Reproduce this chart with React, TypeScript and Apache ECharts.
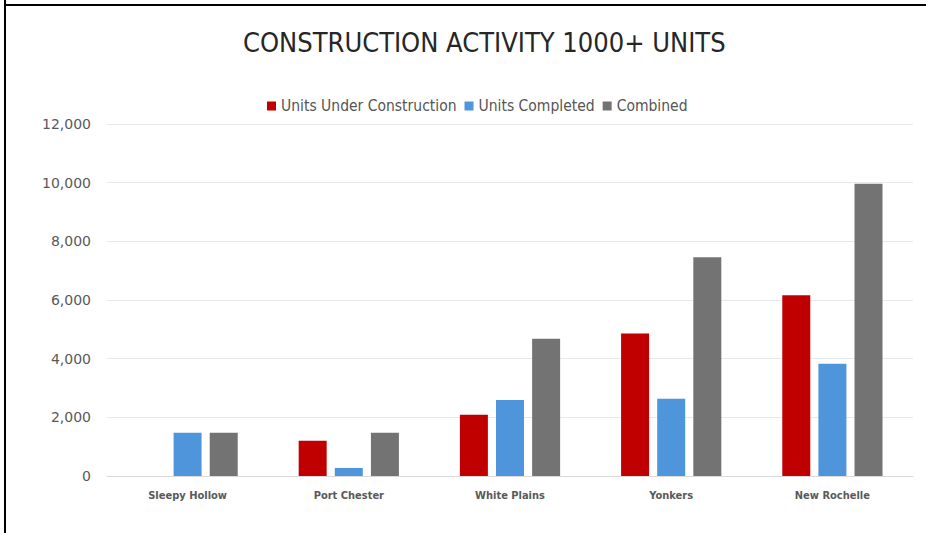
import React, { useEffect, useRef } from "react";
import * as echarts from "echarts";

const categories = ["Sleepy Hollow", "Port Chester", "White Plains", "Yonkers", "New Rochelle"];
const underConstruction = [0, 1200, 2090, 4860, 6160];
const completed = [1475, 275, 2590, 2630, 3830];
const combined = [1475, 1475, 4680, 7460, 9960];
const yTicks = { min: 0, max: 12000, interval: 2000 };

export default function App() {
  const ref = useRef<HTMLDivElement>(null);
  useEffect(() => {
    const chart = echarts.init(ref.current!, null, { renderer: "svg" });
    const barStyle = (color: string) => ({ color });
    chart.setOption({
      animation: false,
      backgroundColor: "#ffffff",
      title: {
        text: "CONSTRUCTION ACTIVITY 1000+ UNITS",
        left: 238,
        top: 24,
        textStyle: { fontFamily: "DejaVu Sans Condensed", fontWeight: "normal", fontSize: 27, color: "#262626" },
      },
      legend: {
        top: 93,
        left: 262,
        itemWidth: 9,
        itemHeight: 9,
        itemGap: 8,
        icon: "rect",
        textStyle: { fontFamily: "DejaVu Sans Condensed", fontSize: 15.5, color: "#555555" },
        data: ["Units Under Construction", "Units Completed", "Combined"],
      },
      grid: { left: 107, right: 13, top: 124, bottom: 57 },
      xAxis: {
        type: "category",
        data: categories,
        axisLine: { lineStyle: { color: "#d9d9d9" } },
        axisTick: { show: false },
        axisLabel: { margin: 14, fontFamily: "DejaVu Sans Condensed", fontWeight: "bold", fontSize: 11, color: "#595959" },
      },
      yAxis: {
        type: "value",
        min: yTicks.min,
        max: yTicks.max,
        interval: yTicks.interval,
        axisLine: { show: false },
        axisTick: { show: false },
        splitLine: { lineStyle: { color: "#e8e8e8" } },
        axisLabel: {
          margin: 16,
          fontFamily: "DejaVu Sans",
          fontSize: 14,
          color: "#595959",
          formatter: (v: number) => v.toLocaleString("en-US"),
        },
      },
      series: [
        { name: "Units Under Construction", type: "bar", data: underConstruction, barWidth: 28, barGap: "29%", itemStyle: barStyle("#C00000") },
        { name: "Units Completed", type: "bar", data: completed, barWidth: 28, barGap: "29%", itemStyle: barStyle("#4F95DB") },
        { name: "Combined", type: "bar", data: combined, barWidth: 28, barGap: "29%", itemStyle: barStyle("#737373") },
      ],
      graphic: [
        { type: "line", shape: { x1: 5, y1: 0, x2: 5, y2: 533 }, style: { stroke: "#000", lineWidth: 2 } },
        { type: "line", shape: { x1: 4, y1: 5, x2: 926, y2: 5 }, style: { stroke: "#000", lineWidth: 2 } },
      ],
    });
    return () => chart.dispose();
  }, []);
  return <div ref={ref} style={{ position: "absolute", left: 0, top: 0, width: 926, height: 533 }} />;
}
